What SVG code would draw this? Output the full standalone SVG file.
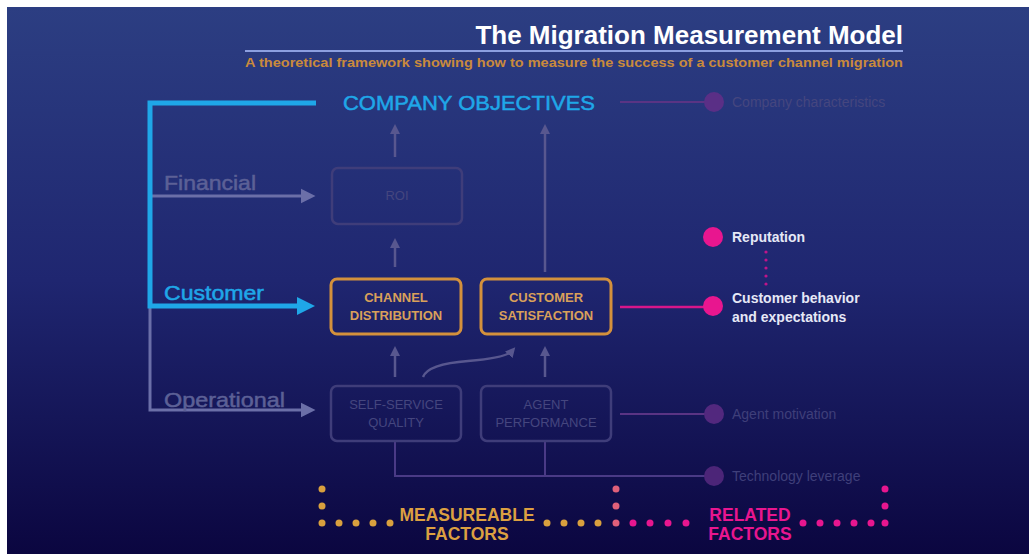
<svg xmlns="http://www.w3.org/2000/svg" width="1029" height="554" viewBox="0 0 1029 554">
<defs>
<linearGradient id="bg" x1="0" y1="0" x2="0" y2="1">
<stop offset="0" stop-color="#2c3e82"/>
<stop offset="0.5" stop-color="#1f2670"/>
<stop offset="1" stop-color="#0b0640"/>
</linearGradient>
<marker id="ag" viewBox="0 0 10 10" refX="5" refY="5" markerWidth="4" markerHeight="4" orient="auto" markerUnits="strokeWidth">
<path d="M0,0 L10,5 L0,10 z" fill="#58578f"/>
</marker>
<marker id="agl" viewBox="0 0 10 10" refX="5" refY="5" markerWidth="5" markerHeight="5.5" orient="auto" markerUnits="strokeWidth">
<path d="M0,0 L10,5 L0,10 z" fill="#6b6fa8"/>
</marker>
<marker id="ac" viewBox="0 0 10 10" refX="5" refY="5" markerWidth="3.6" markerHeight="4" orient="auto" markerUnits="strokeWidth">
<path d="M0,0 L10,5 L0,10 z" fill="#1fa7e8"/>
</marker>
</defs>
<style>
.t{font-family:"Liberation Sans",Arial,sans-serif}
.box{fill:none;rx:6;ry:6}
.faint{stroke:#3f3d7a;stroke-width:2.5}
.hot{stroke:#d4913c;stroke-width:3}
.bt{font-family:"Liberation Sans",Arial,sans-serif;font-size:13px;text-anchor:middle}
.fb{fill:#45467f}
.hb{fill:#d9a05a;font-weight:bold}
.gl{stroke:#58578f;stroke-width:2.5;fill:none}
.rl{font-family:"Liberation Sans",Arial,sans-serif;font-size:14px}
.od{fill:#d9a03e}
.md{fill:#e8168f}
.lab{font-family:"Liberation Sans",Arial,sans-serif;font-size:21px;stroke-width:0.5}
</style>
<rect x="0" y="0" width="1029" height="554" fill="#ffffff"/>
<rect x="7" y="7" width="1022" height="547" fill="url(#bg)"/>

<g id="title">
<text class="t" x="903" y="44" text-anchor="end" font-size="26" font-weight="bold" fill="#ffffff">The Migration Measurement Model</text>
<line x1="245" y1="51" x2="903" y2="51" stroke="#8c9fe0" stroke-width="2"/>
<text class="t" x="903" y="67" text-anchor="end" font-size="12.5" font-weight="bold" fill="#c98a3c" textLength="658" lengthAdjust="spacingAndGlyphs">A theoretical framework showing how to measure the success of a customer channel migration</text>
</g>

<g id="connectors">
<polyline points="150,306 150,410 308,410" fill="none" stroke="#6b6fa8" stroke-width="3" marker-end="url(#agl)"/>
<line x1="150" y1="196" x2="308" y2="196" stroke="#6b6fa8" stroke-width="3" marker-end="url(#agl)"/>
<polyline points="316,103 150,103 150,306 306,306" fill="none" stroke="#1fa7e8" stroke-width="5" marker-end="url(#ac)"/>
<line x1="395" y1="157" x2="395" y2="129" class="gl" marker-end="url(#ag)"/>
<line x1="395" y1="267" x2="395" y2="243" class="gl" marker-end="url(#ag)"/>
<line x1="545" y1="272" x2="545" y2="129" class="gl" marker-end="url(#ag)"/>
<line x1="395" y1="377" x2="395" y2="351" class="gl" marker-end="url(#ag)"/>
<line x1="545" y1="377" x2="545" y2="351" class="gl" marker-end="url(#ag)"/>
<path d="M423,377 Q428,364 468,361 Q506,358 512,351" class="gl" marker-end="url(#ag)"/>
<polyline points="395,441 395,476 706,476" fill="none" stroke="#4a3a86" stroke-width="2"/>
<line x1="545" y1="441" x2="545" y2="476" stroke="#4a3a86" stroke-width="2"/>
<line x1="620" y1="102" x2="706" y2="102" stroke="#5a3484" stroke-width="2"/>
<line x1="620" y1="307" x2="706" y2="307" stroke="#d8168a" stroke-width="2.5"/>
<line x1="620" y1="414" x2="706" y2="414" stroke="#5a3484" stroke-width="2"/>
<g fill="#c0148a">
<circle cx="766" cy="252" r="1.6"/><circle cx="766" cy="260" r="1.6"/><circle cx="766" cy="268" r="1.6"/><circle cx="766" cy="276" r="1.6"/><circle cx="766" cy="284" r="1.6"/>
</g>
</g>

<g id="company-objectives">
<text class="lab" x="343" y="110" fill="#1fa7e8" stroke="#1fa7e8" stroke-width="0.7" textLength="252" lengthAdjust="spacingAndGlyphs">COMPANY OBJECTIVES</text>
</g>

<g id="labels-left">
<text class="lab" x="164" y="190" fill="#5c6096" stroke="#5c6096" textLength="92" lengthAdjust="spacingAndGlyphs">Financial</text>
<text class="lab" x="164" y="300" fill="#1fa7e8" stroke="#1fa7e8" textLength="100" lengthAdjust="spacingAndGlyphs">Customer</text>
<text class="lab" x="164" y="407" fill="#5c6096" stroke="#5c6096" textLength="121" lengthAdjust="spacingAndGlyphs">Operational</text>
</g>

<g id="roi">
<rect x="332" y="168" width="130" height="56" class="box faint"/>
<text class="bt fb" x="397" y="200">ROI</text>
</g>
<g id="channel-distribution">
<rect x="331" y="279" width="130" height="55" class="box hot"/>
<text class="bt hb" x="396" y="302">CHANNEL</text>
<text class="bt hb" x="396" y="320">DISTRIBUTION</text>
</g>
<g id="customer-satisfaction">
<rect x="481" y="279" width="130" height="55" class="box hot"/>
<text class="bt hb" x="546" y="302">CUSTOMER</text>
<text class="bt hb" x="546" y="320">SATISFACTION</text>
</g>
<g id="self-service-quality">
<rect x="331" y="386" width="130" height="55" class="box faint"/>
<text class="bt fb" x="396" y="409">SELF-SERVICE</text>
<text class="bt fb" x="396" y="427">QUALITY</text>
</g>
<g id="agent-performance">
<rect x="481" y="386" width="130" height="55" class="box faint"/>
<text class="bt fb" x="546" y="409">AGENT</text>
<text class="bt fb" x="546" y="427">PERFORMANCE</text>
</g>

<g id="company-characteristics">
<circle cx="714" cy="102" r="10" fill="#5a2f86"/>
<text class="rl" x="732" y="107" fill="#45467f">Company characteristics</text>
</g>
<g id="reputation">
<circle cx="713" cy="237" r="10" fill="#e8168f"/>
<text class="rl" x="732" y="242" fill="#e6e8f6" font-weight="bold" font-size="13.5">Reputation</text>
</g>
<g id="customer-behavior">
<circle cx="713" cy="306" r="10" fill="#e8168f"/>
<text class="rl" x="732" y="303" fill="#e6e8f6" font-weight="bold" font-size="13.5">Customer behavior</text>
<text class="rl" x="732" y="322" fill="#e6e8f6" font-weight="bold" font-size="13.5">and expectations</text>
</g>
<g id="agent-motivation">
<circle cx="714" cy="414" r="10" fill="#52287e"/>
<text class="rl" x="732" y="419" fill="#3f3f7a">Agent motivation</text>
</g>
<g id="technology-leverage">
<circle cx="714" cy="476" r="10" fill="#4c2578"/>
<text class="rl" x="732" y="481" fill="#3f3f7a">Technology leverage</text>
</g>

<g id="measureable-factors">
<circle class="od" cx="322" cy="489" r="3.5"/><circle class="od" cx="322" cy="506" r="3.5"/>
<circle class="od" cx="322" cy="523" r="3.5"/><circle class="od" cx="339" cy="523" r="3.5"/><circle class="od" cx="356" cy="523" r="3.5"/><circle class="od" cx="373" cy="523" r="3.5"/><circle class="od" cx="390" cy="523" r="3.5"/>
<circle class="od" cx="547" cy="523" r="3.5"/><circle class="od" cx="564" cy="523" r="3.5"/><circle class="od" cx="581" cy="523" r="3.5"/><circle class="od" cx="598" cy="523" r="3.5"/>
<circle cx="616" cy="489" r="3.5" fill="#e0607a"/><circle cx="616" cy="506" r="3.5" fill="#e0607a"/><circle cx="616" cy="523" r="3.5" fill="#e0607a"/>
<text class="t" x="467" y="521" text-anchor="middle" font-size="17.5" font-weight="bold" fill="#dca041">MEASUREABLE</text>
<text class="t" x="467" y="540" text-anchor="middle" font-size="17.5" font-weight="bold" fill="#dca041">FACTORS</text>
</g>
<g id="related-factors">
<circle class="md" cx="633" cy="523" r="3.5"/><circle class="md" cx="650" cy="523" r="3.5"/><circle class="md" cx="668" cy="523" r="3.5"/><circle class="md" cx="686" cy="523" r="3.5"/>
<circle class="md" cx="803" cy="523" r="3.5"/><circle class="md" cx="820" cy="523" r="3.5"/><circle class="md" cx="837" cy="523" r="3.5"/><circle class="md" cx="854" cy="523" r="3.5"/><circle class="md" cx="871" cy="523" r="3.5"/>
<circle class="md" cx="885" cy="489" r="3.5"/><circle class="md" cx="885" cy="506" r="3.5"/><circle class="md" cx="885" cy="523" r="3.5"/>
<text class="t" x="750" y="521" text-anchor="middle" font-size="17.5" font-weight="bold" fill="#e8168f">RELATED</text>
<text class="t" x="750" y="540" text-anchor="middle" font-size="17.5" font-weight="bold" fill="#e8168f">FACTORS</text>
</g>
</svg>
